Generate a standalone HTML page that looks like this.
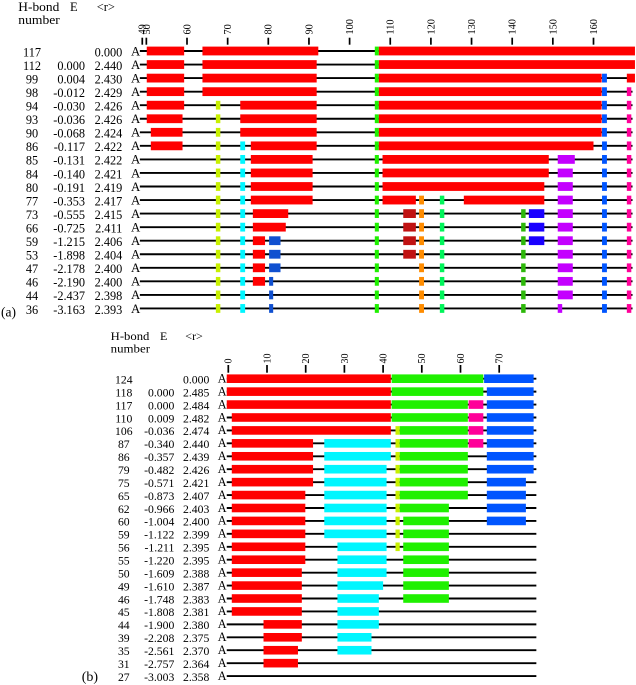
<!DOCTYPE html>
<html lang="en">
<head>
<meta charset="utf-8">
<title>H-bond unfolding diagrams</title>
<style>
html,body{margin:0;padding:0;background:#fff;}
svg{display:block;filter:blur(0.25px);}
text{font-family:"Liberation Serif",serif;fill:#000;}
</style>
</head>
<body>
<svg id="chart" xmlns="http://www.w3.org/2000/svg" width="636" height="685" viewBox="0 0 636 685">
  <g font-size="12.5">
    <text x="18.3" y="11" textLength="41" lengthAdjust="spacingAndGlyphs">H-bond</text>
    <text x="18.3" y="24" textLength="41.5" lengthAdjust="spacingAndGlyphs">number</text>
    <text x="70" y="11">E</text>
    <text x="96.7" y="11">&lt;r&gt;</text>
  </g>
  <text x="1" y="316.5" font-size="13.5">(a)</text>
  <g font-size="12">
    <text x="110.7" y="340" textLength="38.7" lengthAdjust="spacingAndGlyphs">H-bond</text>
    <text x="110.7" y="352.7" textLength="39.3" lengthAdjust="spacingAndGlyphs">number</text>
    <text x="160" y="340">E</text>
    <text x="185.3" y="340">&lt;r&gt;</text>
  </g>
  <text x="81.7" y="681" font-size="14">(b)</text>
  <g id="panel-a"></g>
  <g id="panel-b"></g>
</svg>
<script>
// ---- Shared colour key for secondary-structure elements ----
const elementColors = {r:'#ff0000',g:'#1ff000',y:'#c8f000',c:'#00f6ff',b:'#0055ff',m:'#ff0099',p:'#c400ff',o:'#ff8c00',s:'#00f55a',k:'#2db80a',d:'#c01212',u:'#1a00ff',n:'#1050d0'};

// ---- Panel (a) data ----
const aTicks = [49,50,60,70,80,90,100,110,120,130,140,150,160];
const aNumbers = ['117','112','99','98','94','93','90','86','85','84','80','77','73','66','59','53','47','46','44','36'];
const aEnergies = ['','0.000','0.004','-0.012','-0.030','-0.036','-0.068','-0.117','-0.131','-0.140','-0.191','-0.353','-0.555','-0.725','-1.215','-1.898','-2.178','-2.190','-2.437','-3.163'];
const aRadii = ['0.000','2.440','2.430','2.429','2.426','2.426','2.424','2.422','2.422','2.421','2.419','2.417','2.415','2.411','2.406','2.404','2.400','2.400','2.398','2.393'];
const aSegments = [
 [[50.1,59.3,'r'],[63.8,92.3,'r'],[106.2,107.2,'g'],[107.2,170.2,'r']],
 [[50.1,59.3,'r'],[63.8,91.9,'r'],[106.2,107.2,'g'],[107.2,170.2,'r']],
 [[50.1,59.3,'r'],[63.8,91.9,'r'],[106.2,107.2,'g'],[107.2,162,'r'],[162.1,163.3,'b'],[168.2,170.2,'r']],
 [[50.1,59.3,'r'],[63.8,91.9,'r'],[106.2,107.2,'g'],[107.2,162,'r'],[162.1,163.3,'b'],[168.2,169.3,'m']],
 [[50.1,59.3,'r'],[67.1,68.2,'y'],[73.1,91.9,'r'],[106.2,107.2,'g'],[107.2,162,'r'],[162.1,163.3,'b'],[168.2,169.3,'m']],
 [[50.1,58.9,'r'],[67.1,68.2,'y'],[73.1,91.9,'r'],[106.2,107.2,'g'],[107.2,162,'r'],[162.1,163.3,'b'],[168.2,169.3,'m']],
 [[51.1,58.9,'r'],[67.1,68.2,'y'],[73.1,91.9,'r'],[106.2,107.2,'g'],[107.2,162,'r'],[162.1,163.3,'b'],[168.2,169.3,'m']],
 [[51.1,58.9,'r'],[67.1,68.2,'y'],[73.1,74.3,'c'],[75.7,91.9,'r'],[106.2,107.2,'g'],[107.2,160,'r'],[162.1,163.3,'b'],[168.2,169.3,'m']],
 [[67.1,68.2,'y'],[73.1,74.3,'c'],[75.7,90.9,'r'],[106.2,107.2,'g'],[108.1,149,'r'],[151.2,155.4,'p'],[162.1,163.3,'b'],[168.2,169.3,'m']],
 [[67.1,68.2,'y'],[73.1,74.3,'c'],[75.7,90.9,'r'],[106.2,107.2,'g'],[108.1,149,'r'],[151.2,154.9,'p'],[162.1,163.3,'b'],[168.2,169.3,'m']],
 [[67.1,68.2,'y'],[73.1,74.3,'c'],[75.7,90.9,'r'],[106.2,107.2,'g'],[108.1,147.9,'r'],[151.2,154.9,'p'],[162.1,163.3,'b'],[168.2,169.3,'m']],
 [[67.1,68.2,'y'],[73.1,74.3,'c'],[75.7,90.9,'r'],[106.2,107.2,'g'],[108.1,116.3,'r'],[117.1,118.3,'o'],[122.2,123.3,'s'],[128.1,147.9,'r'],[151.2,154.9,'p'],[162.1,163.3,'b'],[168.2,169.3,'m']],
 [[67.1,68.2,'y'],[73.1,74.3,'c'],[76.2,84.9,'r'],[106.2,107.2,'g'],[113.2,116.3,'d'],[117.1,118.3,'o'],[122.2,123.3,'s'],[142.2,143.3,'k'],[144.1,147.9,'u'],[151.2,154.9,'p'],[162.1,163.3,'b'],[168.2,169.3,'m']],
 [[67.1,68.2,'y'],[73.1,74.3,'c'],[76.2,84.3,'r'],[106.2,107.2,'g'],[113.2,116.3,'d'],[117.1,118.3,'o'],[122.2,123.3,'s'],[142.2,143.3,'k'],[144.1,147.9,'u'],[151.2,154.9,'p'],[162.1,163.3,'b'],[168.2,169.3,'m']],
 [[67.1,68.2,'y'],[73.1,74.3,'c'],[76.2,79.2,'r'],[80.2,83,'n'],[106.2,107.2,'g'],[113.2,116.3,'d'],[117.1,118.3,'o'],[122.2,123.3,'s'],[142.2,143.3,'k'],[144.1,147.9,'u'],[151.2,154.9,'p'],[162.1,163.3,'b'],[168.2,169.3,'m']],
 [[67.1,68.2,'y'],[73.1,74.3,'c'],[76.2,79.2,'r'],[80.2,83,'n'],[106.2,107.2,'g'],[113.2,116.3,'d'],[117.1,118.3,'o'],[122.2,123.3,'s'],[142.2,143.3,'k'],[151.2,154.9,'p'],[162.1,163.3,'b'],[168.2,169.3,'m']],
 [[67.1,68.2,'y'],[73.1,74.3,'c'],[76.2,79.2,'r'],[80.2,83,'n'],[106.2,107.2,'g'],[117.1,118.3,'o'],[122.2,123.3,'s'],[142.2,143.3,'k'],[151.2,154.9,'p'],[162.1,163.3,'b'],[168.2,169.3,'m']],
 [[67.1,68.2,'y'],[73.1,74.3,'c'],[76.2,79.2,'r'],[80.2,81.2,'n'],[106.2,107.2,'g'],[117.1,118.3,'o'],[122.2,123.3,'s'],[142.2,143.3,'k'],[151.2,154.9,'p'],[162.1,163.3,'b'],[168.2,169.3,'m']],
 [[67.1,68.2,'y'],[73.1,74.3,'c'],[80.2,81.2,'n'],[106.2,107.2,'g'],[117.1,118.3,'o'],[122.2,123.3,'s'],[142.2,143.3,'k'],[151.2,154.9,'p'],[162.1,163.3,'b'],[168.2,169.3,'m']],
 [[67.1,68.2,'y'],[73.1,74.3,'c'],[80.2,81.2,'n'],[106.2,107.2,'g'],[117.1,118.3,'o'],[122.2,123.3,'s'],[142.2,143.3,'k'],[151.2,152.3,'p'],[162.1,163.3,'b'],[168.2,169.3,'m']]
];
const aChainRange = [48.4,169.6];

// ---- Panel (b) data ----
const bTicks = [0,10,20,30,40,50,60,70];
const bNumbers = ['124','118','117','110','106','87','86','79','75','65','62','60','59','56','55','50','49','46','45','44','39','35','31','27'];
const bEnergies = ['','0.000','0.000','0.009','-0.036','-0.340','-0.357','-0.482','-0.571','-0.873','-0.966','-1.004','-1.122','-1.211','-1.220','-1.609','-1.610','-1.748','-1.808','-1.900','-2.208','-2.561','-2.757','-3.003'];
const bRadii = ['0.000','2.485','2.484','2.482','2.474','2.440','2.439','2.426','2.421','2.407','2.403','2.400','2.399','2.395','2.395','2.388','2.387','2.383','2.381','2.380','2.375','2.370','2.364','2.358'];
const bSegments = [
 [[-0.4,42,'r'],[42.2,65.9,'g'],[66.1,78.9,'b']],
 [[-0.4,42,'r'],[42.2,65.9,'g'],[66.8,78.9,'b']],
 [[-0.4,42,'r'],[42.2,61.9,'g'],[62.1,65.9,'m'],[66.8,78.9,'b']],
 [[0.9,42,'r'],[42.2,61.9,'g'],[62.1,65.9,'m'],[66.8,78.9,'b']],
 [[0.9,42,'r'],[43.2,44.3,'y'],[44.3,61.9,'g'],[62.1,65.9,'m'],[66.8,78.9,'b']],
 [[0.9,21.9,'r'],[24.8,42,'c'],[43.2,44.3,'y'],[44.3,61.9,'g'],[62.1,65.9,'m'],[66.8,78.9,'b']],
 [[0.9,21.9,'r'],[24.8,42,'c'],[43.2,44.3,'y'],[44.3,61.9,'g'],[66.8,78.9,'b']],
 [[0.9,21.9,'r'],[24.8,40.9,'c'],[43.2,44.3,'y'],[44.3,61.9,'g'],[66.8,78.9,'b']],
 [[0.9,21.9,'r'],[24.8,40.9,'c'],[43.2,44.3,'y'],[44.3,61.9,'g'],[66.8,76.9,'b']],
 [[0.9,19.9,'r'],[24.8,40.9,'c'],[43.2,44.3,'y'],[44.3,61.9,'g'],[66.8,76.9,'b']],
 [[0.9,19.9,'r'],[24.8,40.9,'c'],[43.2,44.3,'y'],[44.3,57,'g'],[66.8,76.9,'b']],
 [[0.9,19.9,'r'],[24.8,40.9,'c'],[43.2,44.3,'y'],[45.2,57,'g'],[66.8,76.9,'b']],
 [[0.9,19.9,'r'],[24.8,40.9,'c'],[43.2,44.3,'y'],[45.2,57,'g']],
 [[0.9,19.9,'r'],[28.2,40.9,'c'],[43.2,44.3,'y'],[45.2,57,'g']],
 [[0.9,19.9,'r'],[28.2,40.9,'c'],[45.2,57,'g']],
 [[0.9,19,'r'],[28.2,40.9,'c'],[45.2,57,'g']],
 [[0.9,19,'r'],[28.2,40,'c'],[45.2,57,'g']],
 [[0.9,19,'r'],[28.2,38.9,'c'],[45.2,57,'g']],
 [[0.9,19,'r'],[28.2,38.9,'c']],
 [[9.1,19,'r'],[28.2,38.9,'c']],
 [[9.1,19,'r'],[28.2,37,'c']],
 [[9.1,18,'r'],[28.2,37,'c']],
 [[9.1,18,'r']],
 []
];
const bChainRange = [-0.4,79.6];

const NS = 'http://www.w3.org/2000/svg';
function make(parent, tag, attrs, txt) {
  const node = document.createElementNS(NS, tag);
  for (const key in attrs) node.setAttribute(key, attrs[key]);
  if (txt !== undefined) node.textContent = txt;
  parent.appendChild(node);
  return node;
}

function drawPanel(cfg) {
  const root = document.getElementById(cfg.id);
  const xScale = v => cfg.x0 + (v - cfg.d0) * cfg.k;
  const yScale = i => cfg.y0 + i * cfg.step;

  cfg.ticks.forEach(t => {
    const x = xScale(t);
    const tick = make(root, 'line', {x1:x, x2:x, y1:cfg.tickTop, y2:cfg.tickBottom, stroke:'#000', 'stroke-width':1.7});
    
    
    const tx = x + 3.4;
    const label = make(root, 'text', {x:tx, y:cfg.labelY, 'font-size':cfg.tickFont, transform:'rotate(-90 ' + tx + ' ' + cfg.labelY + ')'}, String(t));
    
    
  });

  cfg.numbers.forEach((num, i) => {
    const y = yScale(i);
    const row = make(root, 'g', {});
    
    

    const numText = make(row, 'text', {x:cfg.numX, y:y + cfg.textDy, 'font-size':cfg.font, 'text-anchor':'middle'}, num);
    
    

    const eText = make(row, 'text', {x:cfg.eX, y:y + cfg.textDy, 'font-size':cfg.font, 'text-anchor':'end'}, cfg.energies[i]);
    
    

    const rText = make(row, 'text', {x:cfg.rX, y:y + cfg.textDy, 'font-size':cfg.font, 'text-anchor':'end'}, cfg.radii[i]);
    
    

    const chainText = make(row, 'text', {x:cfg.chainX, y:y + cfg.textDy - 1, 'font-size':cfg.font + 0.5}, 'A');
    
    

    const backbone = make(row, 'line', {x1:xScale(cfg.range[0]), x2:xScale(cfg.range[1]), y1:y, y2:y, stroke:'#000', 'stroke-width':1.9});
    
    

    cfg.segments[i].forEach(seg => {
      const x1 = xScale(seg[0]);
      const x2 = xScale(seg[1]);
      const bar = make(row, 'rect', {x:x1, y:y - cfg.barH / 2, width:x2 - x1, height:cfg.barH, fill:elementColors[seg[2]]});
      
      
    });
  });
}

drawPanel({id:'panel-a', ticks:aTicks, numbers:aNumbers, energies:aEnergies, radii:aRadii, segments:aSegments, range:aChainRange,
  x0:187, d0:60, k:4.065, y0:51, step:13.55, barH:8.8, tickTop:37.7, tickBottom:44.7, labelY:34.5, tickFont:10.3, font:12.3,
  numX:32, eX:85, rX:122.3, chainX:131, textDy:5.3});
drawPanel({id:'panel-b', ticks:bTicks, numbers:bNumbers, energies:bEnergies, radii:bRadii, segments:bSegments, range:bChainRange,
  x0:228.3, d0:0, k:3.87, y0:378.7, step:12.93, barH:8.6, tickTop:365, tickBottom:372.7, labelY:363.5, tickFont:10, font:11.7,
  numX:123.8, eX:174.3, rX:209.3, chainX:217.7, textDy:4.8});
</script>
</body>
</html>
